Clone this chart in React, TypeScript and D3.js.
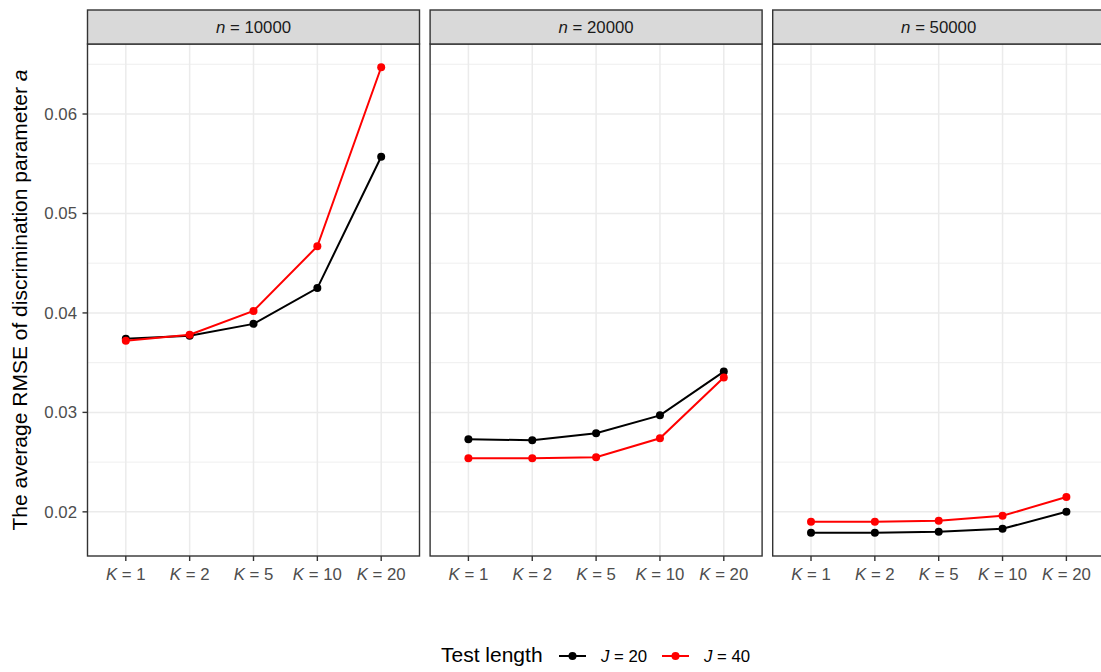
import * as d3 from "d3";

// facet labels (n), x categories (K), and the two series (J = 20, J = 40)
const facets = ["10000", "20000", "50000"];
const kLabels = ["1", "2", "5", "10", "20"];
const j20 = [
  [0.0374, 0.0377, 0.0389, 0.0425, 0.0557],
  [0.0273, 0.0272, 0.0279, 0.0297, 0.0341],
  [0.0179, 0.0179, 0.018, 0.0183, 0.02],
];
const j40 = [
  [0.0372, 0.0378, 0.0402, 0.0467, 0.0647],
  [0.0254, 0.0254, 0.0255, 0.0274, 0.0335],
  [0.019, 0.019, 0.0191, 0.0196, 0.0215],
];
const yTicks = [0.02, 0.03, 0.04, 0.05, 0.06];
const yMinor = [0.025, 0.035, 0.045, 0.055, 0.065];

const series = [
  { name: "20", values: j20, color: "#000000" },
  { name: "40", values: j40, color: "#FF0000" },
];

const W = 1101;
const H = 672;
const PANEL_LEFT = 87.5;
const PANEL_W = 332;
const GAP = 10.6;
const STRIP_TOP = 10;
const PANEL_TOP = 44;
const PANEL_BOTTOM = 556;
const FONT = "'Liberation Sans', Arial, Helvetica, sans-serif";
const BASE = 21;
const SMALL = 16.8;

export default function App() {
  const all = [...j20.flat(), ...j40.flat()];
  const [lo, hi] = d3.extent(all) as [number, number];
  const pad = (hi - lo) * 0.05;
  const y = d3
    .scaleLinear()
    .domain([lo - pad, hi + pad])
    .range([PANEL_BOTTOM, PANEL_TOP]);
  const x = d3.scalePoint<string>().domain(kLabels).range([0, PANEL_W]).padding(0.6);

  const line = d3
    .line<number>()
    .x((_, i) => x(kLabels[i]) ?? 0)
    .y((d) => y(d));

  return (
    <svg
      width={W}
      height={H}
      style={{ position: "absolute", left: 0, top: 0, background: "#fff" }}
      fontFamily={FONT}
    >
      {facets.map((f, fi) => {
        const x0 = PANEL_LEFT + fi * (PANEL_W + GAP);
        return (
          <g key={f} transform={`translate(${x0},0)`}>
            {/* minor grid */}
            {yMinor.map((t) => (
              <line key={"m" + t} x1={0} x2={PANEL_W} y1={y(t)} y2={y(t)} stroke="#EBEBEB" strokeWidth={0.8} />
            ))}
            {/* major grid */}
            {yTicks.map((t) => (
              <line key={"y" + t} x1={0} x2={PANEL_W} y1={y(t)} y2={y(t)} stroke="#EBEBEB" strokeWidth={1.5} />
            ))}
            {kLabels.map((k) => (
              <line key={"x" + k} x1={x(k)} x2={x(k)} y1={PANEL_TOP} y2={PANEL_BOTTOM} stroke="#EBEBEB" strokeWidth={1.5} />
            ))}

            {/* series */}
            {series.map((s) => (
              <g key={s.name}>
                <path d={line(s.values[fi]) ?? ""} fill="none" stroke={s.color} strokeWidth={2} />
                {s.values[fi].map((v, i) => (
                  <circle key={i} cx={x(kLabels[i])} cy={y(v)} r={4} fill={s.color} />
                ))}
              </g>
            ))}

            {/* panel border */}
            <rect x={0} y={PANEL_TOP} width={PANEL_W} height={PANEL_BOTTOM - PANEL_TOP} fill="none" stroke="#333333" strokeWidth={1.4} />

            {/* strip */}
            <rect x={0} y={STRIP_TOP} width={PANEL_W} height={PANEL_TOP - STRIP_TOP} fill="#D9D9D9" stroke="#333333" strokeWidth={1.4} />
            <text x={PANEL_W / 2} y={32.5} textAnchor="middle" fontSize={SMALL} fill="#1A1A1A">
              <tspan fontStyle="italic">n</tspan>
              <tspan> = {f}</tspan>
            </text>

            {/* x axis */}
            {kLabels.map((k) => (
              <g key={"t" + k} transform={`translate(${x(k)},${PANEL_BOTTOM})`}>
                <line y1={0} y2={5} stroke="#333333" strokeWidth={1.4} />
                <text y={23.5} textAnchor="middle" fontSize={SMALL} fill="#4D4D4D">
                  <tspan fontStyle="italic">K</tspan>
                  <tspan> = {k}</tspan>
                </text>
              </g>
            ))}
          </g>
        );
      })}

      {/* y axis */}
      {yTicks.map((t) => (
        <g key={t} transform={`translate(${PANEL_LEFT},${y(t)})`}>
          <line x1={-5} x2={0} stroke="#333333" strokeWidth={1.4} />
          <text x={-10.5} dy="0.35em" textAnchor="end" fontSize={SMALL} fill="#4D4D4D">
            {d3.format(".2f")(t)}
          </text>
        </g>
      ))}
      <text
        transform={`translate(27,${(PANEL_TOP + PANEL_BOTTOM) / 2}) rotate(-90)`}
        textAnchor="middle"
        fontSize={BASE}
        fill="#000"
      >
        The average RMSE of discrimination parameter <tspan fontStyle="italic">a</tspan>
      </text>

      {/* legend */}
      <g>
        <text x={441} y={662} fontSize={BASE} fill="#000">
          Test length
        </text>
        {series.map((s, i) => {
          const lx = 559 + i * 103;
          return (
            <g key={s.name}>
              <line x1={lx} x2={lx + 27} y1={656} y2={656} stroke={s.color} strokeWidth={2} />
              <circle cx={lx + 13.5} cy={656} r={4} fill={s.color} />
              <text x={lx + 42} y={662} fontSize={SMALL} fill="#000">
                <tspan fontStyle="italic">J</tspan>
                <tspan> = {s.name}</tspan>
              </text>
            </g>
          );
        })}
      </g>
    </svg>
  );
}
